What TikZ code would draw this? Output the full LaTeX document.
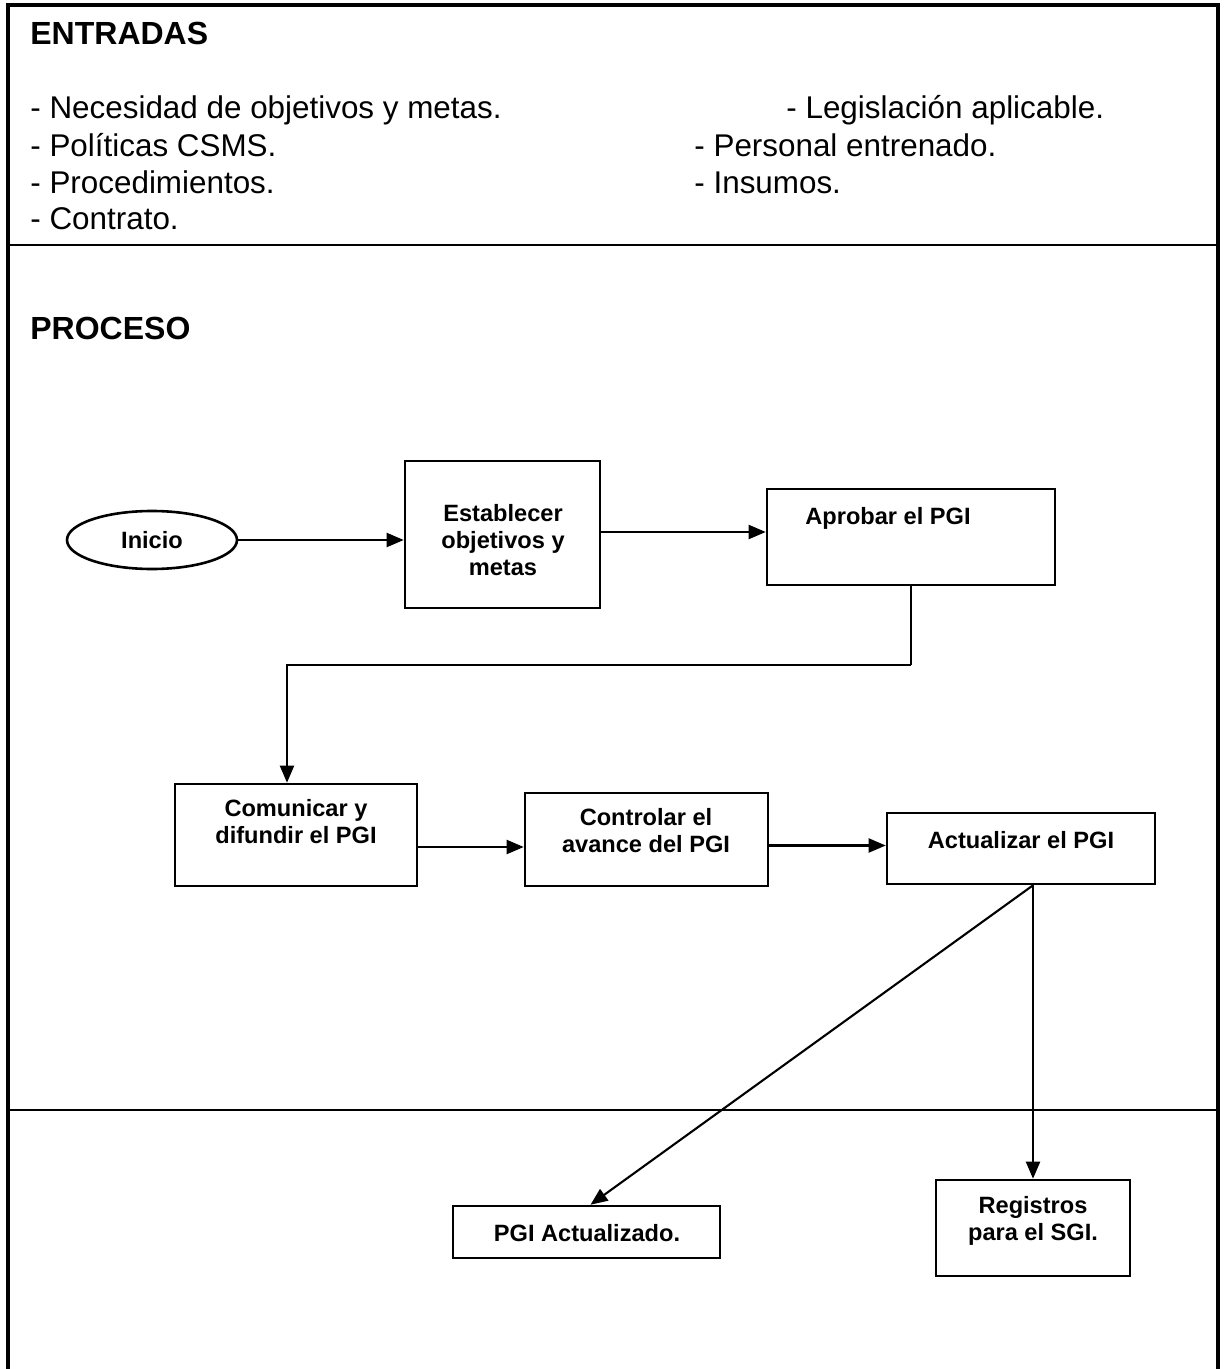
\documentclass[tikz,border=0pt]{standalone}
\usepackage{fontspec}
\setmainfont{Liberation Sans}
\usetikzlibrary{arrows.meta,shapes.geometric}

\begin{document}
\begin{tikzpicture}[x=0.5pt,y=-0.5pt,
  frame/.style={line width=1.6pt},
  rule/.style={line width=1.2pt},
  stepbox/.style={draw, rectangle, line width=1.3pt, inner sep=0pt},
  startshape/.style={draw, ellipse, line width=1.3pt, inner sep=0pt,
    minimum width=85pt, minimum height=29pt,
    font=\fontsize{11.8}{13.5}\selectfont\bfseries},
  boxtext/.style={font=\fontsize{11.8}{13.5}\selectfont\bfseries,
    align=center, inner sep=0pt},
  conn/.style={line width=1.05pt, -{Triangle[length=8.5pt,width=7pt]}},
  link/.style={line width=1.05pt},
  heading/.style={font=\fontsize{16}{19}\selectfont\bfseries,
    anchor=base west, inner sep=0pt},
  item/.style={font=\fontsize{15.7}{18.5}\selectfont,
    anchor=base west, inner sep=0pt}]

\useasboundingbox (0,0) rectangle (1224,1369);

% outer frame and section rules
\draw[frame] (8,1369) -- (8,5) -- (1218,5) -- (1218,1369);
\draw[rule] (8,245) -- (1218,245);
\draw[rule] (10,1110) -- (1220,1110);

% inputs
\node[heading] (hin) at (30,45) {ENTRADAS};
\node[item] (i1) at (30,119) {- Necesidad de objetivos y metas.};
\node[item] (i2) at (30,157) {- Políticas CSMS.};
\node[item] (i3) at (30,194) {- Procedimientos.};
\node[item] (i4) at (30,230) {- Contrato.};
\node[item] (i5) at (786,119) {- Legislación aplicable.};
\node[item] (i6) at (694,157) {- Personal entrenado.};
\node[item] (i7) at (694,194) {- Insumos.};

% process
\node[heading] (hpr) at (30,340) {PROCESO};

\node[startshape] (ini) at (152,540) {Inicio};

\node[stepbox, minimum width=97.5pt, minimum height=73.5pt] (est) at (502.5,534.5) {};
\node[boxtext] (estt) at (503,540) {Establecer\\objetivos y\\metas};

\node[stepbox, minimum width=144pt, minimum height=48pt] (apr) at (911,537) {};
\node[boxtext] (aprt) at (888,518) {Aprobar el PGI};

\node[stepbox, minimum width=121pt, minimum height=51pt] (com) at (296,835) {};
\node[boxtext] (comt) at (296,822) {Comunicar y\\difundir el PGI};

\node[stepbox, minimum width=121.5pt, minimum height=46.5pt] (con) at (646.5,839.5) {};
\node[boxtext] (cont) at (646,831) {Controlar el\\avance del PGI};

\node[stepbox, minimum width=134pt, minimum height=35.5pt] (act) at (1021,848.5) {};
\node[boxtext] (actt) at (1021,840) {Actualizar el PGI};

% outputs
\node[stepbox, minimum width=133.5pt, minimum height=26pt] (pgi) at (586.5,1232) {};
\node[boxtext] (pgit) at (587,1233) {PGI Actualizado.};

\node[stepbox, minimum width=97pt, minimum height=48pt] (reg) at (1033,1228) {};
\node[boxtext] (regt) at (1033,1221) {Registros\\para el SGI.};

% connectors
\coordinate (turn) at (0,665);
\draw[conn] (ini.east) -- (ini.east -| est.west);
\draw[conn] ([yshift=2.5pt]apr.west -| est.east) -- ([yshift=2.5pt]apr.west);
\draw[link] (apr.south) -- (apr.south |- turn);
\draw[conn] (apr.south |- turn) -| ([xshift=-4.5pt]com.north);
\draw[conn] ([yshift=-6pt]com.east) -- ([yshift=-6pt]com.east -| con.west);
\draw[conn] ([yshift=-3pt]con.east) -- ([yshift=-3pt]con.east -| act.west);
\draw[conn] ([xshift=6pt]act.south) -- ([xshift=2pt]pgi.north);
\draw[conn] ([xshift=6pt]act.south) -- (reg.north);

\end{tikzpicture}
\end{document}
